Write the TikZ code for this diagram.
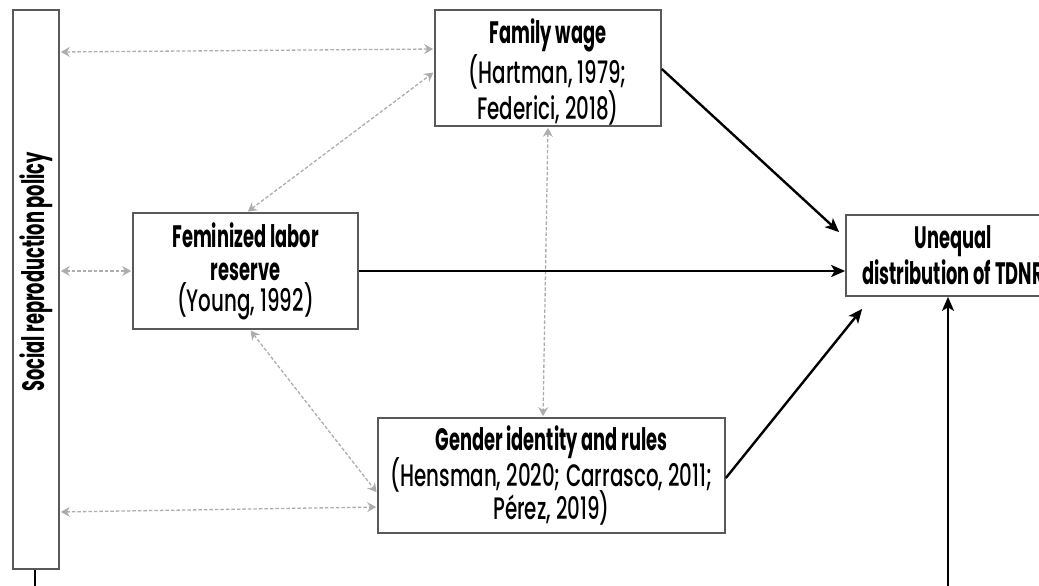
\documentclass[tikz,border=0pt]{standalone}
\usepackage{fontspec}
\setmainfont{Poppins}[UprightFont=* Medium, BoldFont=* Bold, FakeStretch=0.64, BoldFeatures={FakeStretch=0.575}]
\usetikzlibrary{arrows.meta,calc}
\begin{document}
\begin{tikzpicture}[x=1pt,y=-1pt,
  box/.style={draw=black!65, line width=1.7pt, fill=white, align=center, inner sep=0pt,
    font=\fontsize{31}{33}\selectfont},
  txt/.style={align=center, inner sep=0pt, font=\fontsize{31}{33}\selectfont},
  biarrow/.style={draw=black!32, line width=1.3pt, dash pattern=on 3.5pt off 2pt,
    {Stealth[length=9pt,width=10pt,inset=3pt]}-{Stealth[length=9pt,width=10pt,inset=3pt]},
    shorten <=1pt, shorten >=1pt},
  mainarrow/.style={draw=black, line width=2.4pt, -{Stealth[length=14pt,width=12pt,inset=3.5pt]}},
  plain/.style={draw=black, line width=1.7pt}]
\useasboundingbox (0,0) rectangle (1039,586);
\clip (0,0) rectangle (1039,586);

\node[box, minimum width=46pt, minimum height=559pt] (srp) at (36,289.5) {};
\node[txt, rotate=90, font=\fontsize{31}{33}\selectfont\bfseries] (srpt) at (36,272) {Social reproduction policy};

\node[box, minimum width=226pt, minimum height=116pt] (fw) at (548,68) {};
\node[txt] (fwt) at ($(fw.center)+(0,4)$)
  {\textbf{Family wage}\\[1pt] (Hartman, 1979;\\ Federici, 2018)};
\node[box, minimum width=225pt, minimum height=116pt] (flr) at (245.5,271)
  {\textbf{Feminized labor}\\ \textbf{reserve}\\[-2pt] (Young, 1992)};
\node[box, minimum width=347pt, minimum height=115pt] (gir) at (551.5,475.5)
  {\textbf{Gender identity and rules}\\[-2pt] (Hensman, 2020; Carrasco, 2011;\\[-2pt] Pérez, 2019)};
\node[box, minimum width=214pt, minimum height=81pt] (ud) at (953,255.5)
  {\textbf{Unequal}\\[2pt] \textbf{distribution of TDNR}};

\coordinate (srpdown) at (35,600);
\coordinate (uddown) at (948,600);

% gray double arrows
\draw[biarrow] (srp.east |- 0,52) -- (fw.west |- 0,49);
\draw[biarrow] (247,0 |- flr.north) -- (fw.west |- 0,72);
\draw[biarrow] (srp.east |- flr.west) -- (flr.west);
\draw[biarrow] (250,0 |- flr.south) -- (gir.west |- 0,493);
\draw[biarrow] (srp.east |- 0,512) -- (gir.west |- 0,507);
\draw[biarrow] (548,0 |- fw.south) -- (543,0 |- gir.north);

% black arrows
\draw[mainarrow] (fw.east |- 0,69) -- ($(ud.north west)+(-6,18)$);
\draw[mainarrow] (flr.east) -- (ud.west |- flr.east);
\draw[mainarrow] (gir.east |- 0,478) -- ($(ud.south west)+(17,12)$);
\draw[mainarrow] (uddown) -- (uddown |- ud.south);
\draw[plain] (srp.south -| srpdown) -- (srpdown);
\end{tikzpicture}
\end{document}
